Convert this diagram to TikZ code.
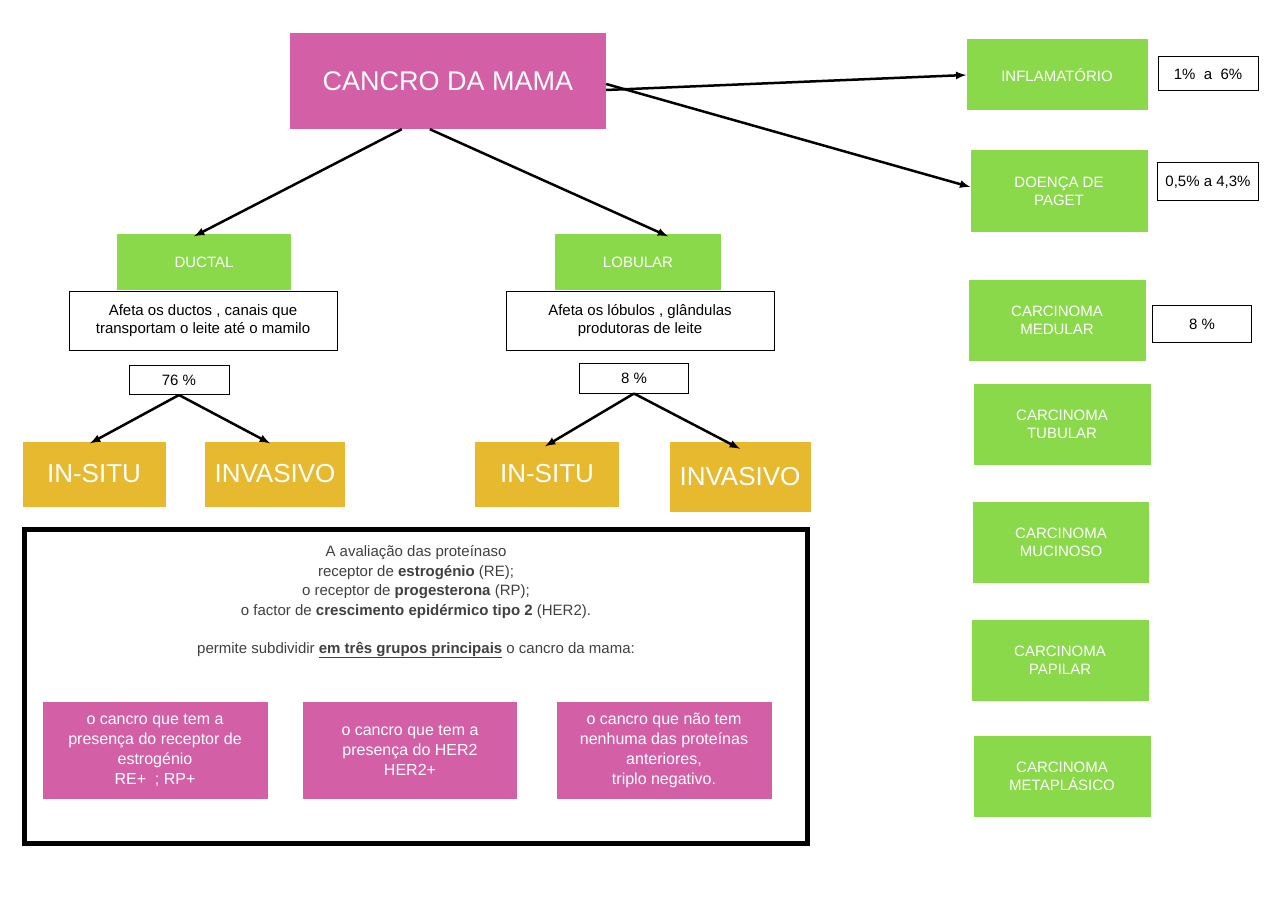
\documentclass[tikz,border=0pt]{standalone}
\usepackage{fontspec}
\setmainfont{Liberation Sans}
\definecolor{rosa}{HTML}{D35FA6}
\definecolor{verde}{HTML}{8AD94B}
\definecolor{laranja}{HTML}{E6B92F}
\begin{document}
\begin{tikzpicture}
[x=1pt,y=-1pt,every node/.style={inner sep=0pt,align=center,text=white,font=\fontsize{15}{18}\selectfont},
 pinkbox/.style={fill=rosa},
 greenbox/.style={fill=verde},
 orangebox/.style={fill=laranja,font=\fontsize{26}{30}\selectfont},
 whitebox/.style={draw=black,line width=1pt,fill=white,text=black},
 arr/.style={-latex,line width=2.5pt}]
  \useasboundingbox (0,0) rectangle (1280,904);
  \node[pinkbox,minimum width=316,minimum height=96,font=\fontsize{27}{32}\selectfont] (cancro) at (448,81) {CANCRO DA MAMA};

  \node[greenbox,minimum width=181,minimum height=71] (inflam) at (1057,75) {INFLAMATÓRIO};
  \node[whitebox,minimum width=100,minimum height=34] (pinflam) at (1208,74) {1\%\ \ a\ \ 6\%};
  \node[greenbox,minimum width=177,minimum height=82] (paget) at (1059,191) {DOENÇA DE\\PAGET};
  \node[whitebox,minimum width=101,minimum height=38] (ppaget) at (1208,182) {0,5\% a 4,3\%};
  \node[greenbox,minimum width=177,minimum height=81] (medular) at (1057,320) {CARCINOMA\\MEDULAR};
  \node[whitebox,minimum width=99,minimum height=37] (pmedular) at (1202,324) {8 \%};
  \node[greenbox,minimum width=177,minimum height=81] (tubular) at (1062,424) {CARCINOMA\\TUBULAR};
  \node[greenbox,minimum width=176,minimum height=81] (mucinoso) at (1061,542) {CARCINOMA\\MUCINOSO};
  \node[greenbox,minimum width=177,minimum height=81] (papilar) at (1060,660) {CARCINOMA\\PAPILAR};
  \node[greenbox,minimum width=177,minimum height=81] (metap) at (1062,776) {CARCINOMA\\METAPLÁSICO};

  \node[greenbox,minimum width=174,minimum height=55] (ductal) at (204,262) {DUCTAL};
  \node[greenbox,minimum width=166,minimum height=55] (lobular) at (638,262) {LOBULAR};
  \node[whitebox,minimum width=268,minimum height=59] (tductal) at (203,321) {Afeta os ductos , canais que\\transportam o leite até o mamilo};
  \node[whitebox,minimum width=268,minimum height=59] (tlobular) at (640,321) {Afeta os lóbulos , glândulas\\produtoras de leite};
  \node[whitebox,minimum width=100,minimum height=29] (pductal) at (179,380) {76 \%};
  \node[whitebox,minimum width=109,minimum height=30] (plobular) at (634,378) {8 \%};

  \node[orangebox,minimum width=143,minimum height=65] (insitu1) at (94,474) {IN-SITU};
  \node[orangebox,minimum width=140,minimum height=65] (invas1) at (275,474) {INVASIVO};
  \node[orangebox,minimum width=144,minimum height=65] (insitu2) at (547,474) {IN-SITU};
  \node[orangebox,minimum width=141,minimum height=70] (invas2) at (740,477) {INVASIVO};

  \node[draw=black,line width=5pt,minimum width=783,minimum height=314] (quadro) at (416,686) {};
  \node[text=black!75,font=\fontsize{15}{19.5}\selectfont] (texto) at (416,582) {A avaliação das proteínaso\\receptor de \textbf{estrogénio} (RE);\\o receptor de \textbf{progesterona} (RP);\\o factor de \textbf{crescimento epidérmico tipo 2} (HER2).};
  \node[text=black!75] (subdiv) at (416,650) {permite subdividir \underline{\textbf{em três grupos principais}} o cancro da mama:};
  \node[pinkbox,minimum width=225,minimum height=97,font=\fontsize{16}{20}\selectfont] (grupo1) at (155,750) {o cancro que tem a\\presença do receptor de\\estrogénio\\RE+\ \ ; RP+};
  \node[pinkbox,minimum width=214,minimum height=97,font=\fontsize{16}{20}\selectfont] (grupo2) at (410,750) {o cancro que tem a\\presença do HER2\\HER2+};
  \node[pinkbox,minimum width=215,minimum height=97,font=\fontsize{16}{20}\selectfont] (grupo3) at (664,750) {o cancro que não tem\\nenhuma das proteínas\\anteriores,\\triplo negativo.};

  \draw[arr] ([xshift=112]cancro.south west) -- ([xshift=-10,yshift=-2]ductal.north);
  \draw[arr] ([xshift=140]cancro.south west) -- ([xshift=30,yshift=-2]lobular.north);
  \draw[arr] ([yshift=-9]cancro.east) -- (inflam.west);
  \draw[arr] ([yshift=-3]cancro.east) -- ([yshift=4]paget.west);
  \draw[arr] (pductal.south) -- ([xshift=-4,yshift=-2]insitu1.north);
  \draw[arr] (pductal.south) -- ([xshift=-5,yshift=-2]invas1.north);
  \draw[arr] (plobular.south) -- ([xshift=-2,yshift=-5]insitu2.north);
  \draw[arr] (plobular.south) -- ([xshift=0,yshift=-7]invas2.north);
\end{tikzpicture}
\end{document}
